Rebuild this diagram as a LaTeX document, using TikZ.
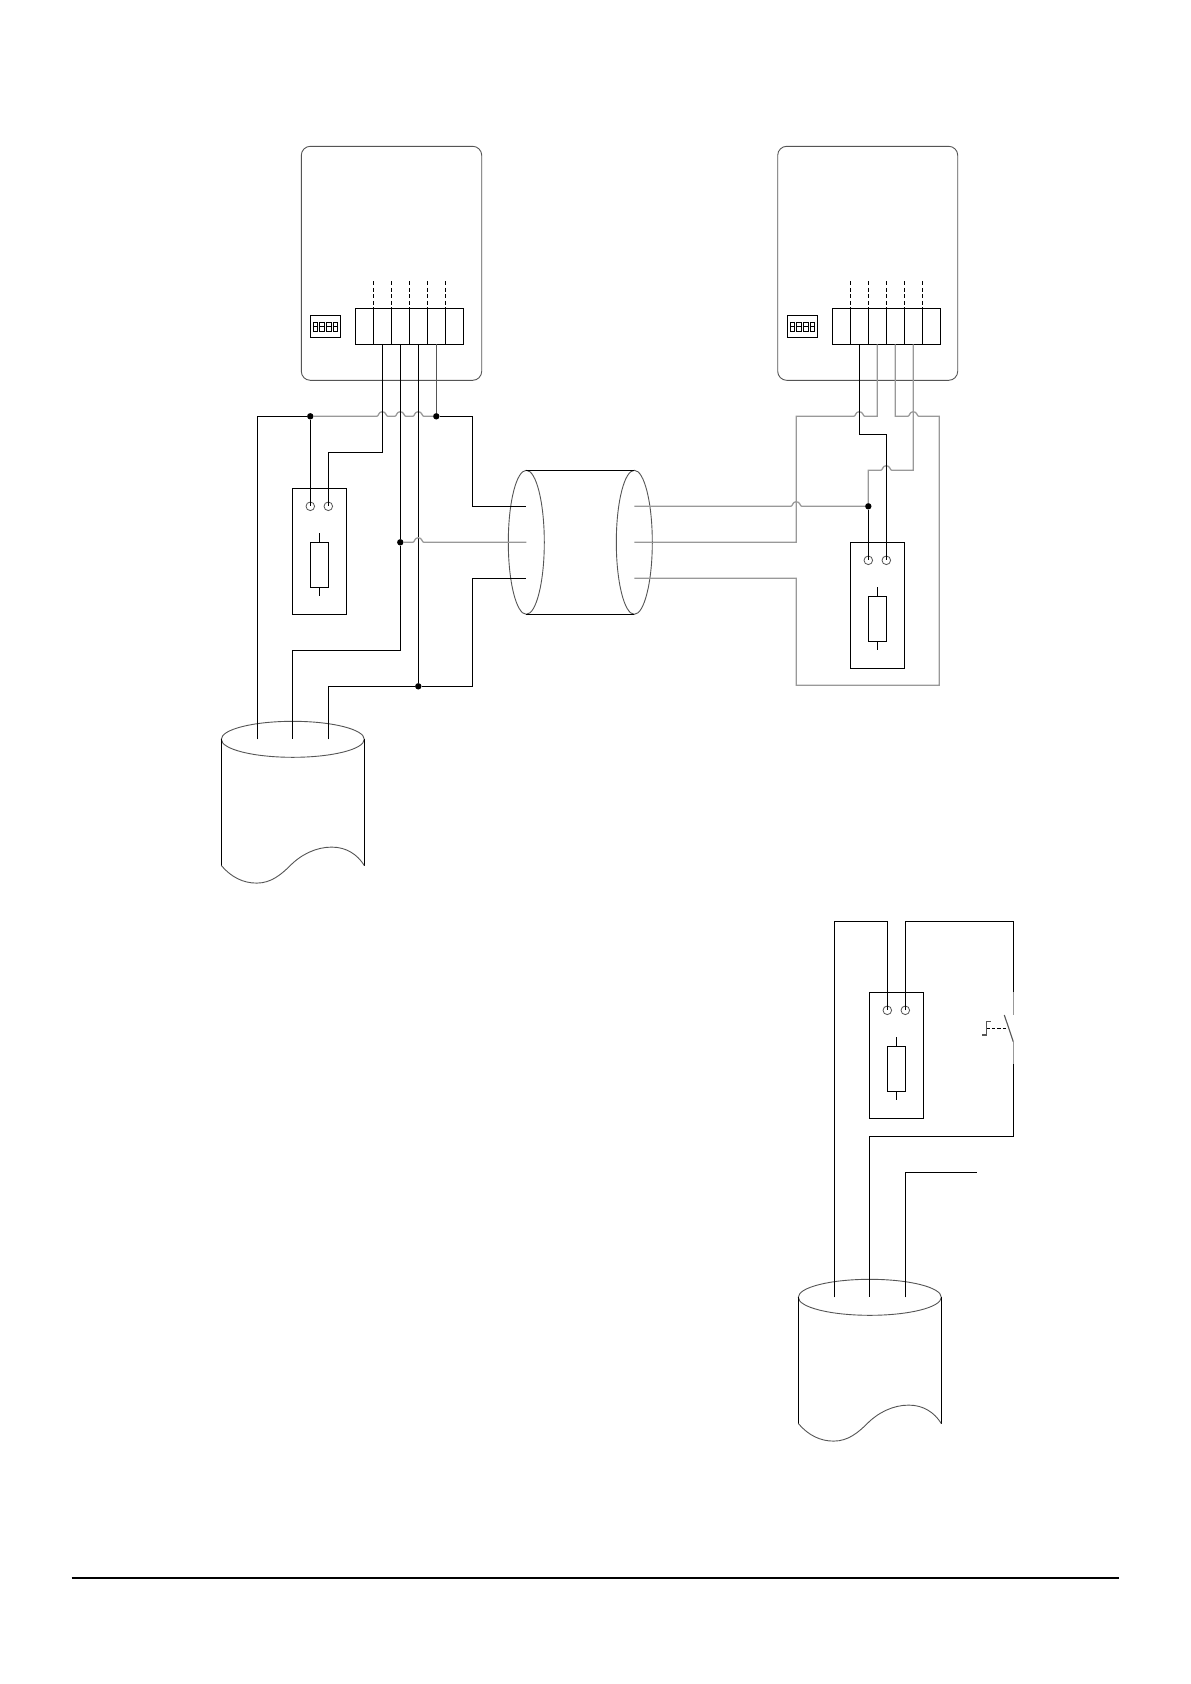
\documentclass[tikz,border=0pt]{standalone}
\definecolor{wiregray}{HTML}{999999}
\definecolor{thinline}{HTML}{555555}
\tikzset{
  wire/.style={draw=black,line width=1.25pt,line join=miter},
  graywire/.style={draw=wiregray,line width=1.25pt,line join=miter},
  midwire/.style={draw=thinline,line width=1.1pt},
  thin outline/.style={draw=thinline,line width=0.9pt},
  plainbox/.style 2 args={draw=black,line width=1.25pt,inner sep=0pt,outer sep=0pt,minimum width=#1 pt,minimum height=#2 pt,fill=none},
  pin/.style={circle,draw=thinline,line width=0.8pt,inner sep=0pt,outer sep=0pt,minimum size=8.6pt},
  joint/.style={circle,fill=black,draw=none,inner sep=0pt,outer sep=0pt,minimum size=6.4pt}
}
% horizontal jump (drawn left to right) over a crossing wire at x=#1, y=#2
\newcommand\hopAt[2]{-- (#1-5.5,#2) .. controls (#1-3.5,#2) and (#1-4,#2-4.6) .. (#1,#2-4.6) .. controls (#1+4,#2-4.6) and (#1+3.5,#2) .. (#1+5.5,#2)}
% controller: rounded case, terminal block, dip switch
\newcommand\controller[4]{%
\begin{scope}[shift={(#2,146.3)}]
  \draw[thin outline,rounded corners=9pt] (#3,0) rectangle (#4,234);
  \node[plainbox={108}{36},anchor=north west] (#1block) at (54,162) {};
  \foreach \i/\dx in {1/18,2/36,3/54,4/72,5/90}{
    \draw[wire] (54+\dx,162) -- (54+\dx,198);
    \draw[wire,dash pattern=on 4pt off 2.5pt] (54+\dx,135) -- (54+\dx,162);
  }
  \node[plainbox={30.4}{22.4},anchor=north west] (#1dip) at (9,169) {};
  \foreach \dx in {12,18.6,25.2,31.8}{
    \draw[draw=black,line width=0.9pt] (\dx,175.7) rectangle (\dx+4.5,185.4);
    \draw[draw=black,line width=0.7pt] (\dx,180.4) -- (\dx+4.5,180.4);
  }
  \coordinate (#1w1) at (81,198);
  \coordinate (#1w2) at (99,198);
  \coordinate (#1w3) at (117,198);
  \coordinate (#1w4) at (135,198);
\end{scope}}
% fuse unit: box, two terminals, resistor
\newcommand\fuseunit[3]{%
\begin{scope}[shift={(#2,#3)}]
  \node[plainbox={54}{126},anchor=north] (#1box) at (0,0) {};
  \node[pin] (#1a) at (-9,18) {};
  \node[pin] (#1b) at (9,18) {};
  \node[plainbox={18}{45},anchor=north] (#1res) at (0,54) {};
  \coordinate (#1s) at (0,45);
  \coordinate (#1e) at (0,107.4);
  \draw[wire] (#1s) -- (#1res.north);
  \draw[wire] (#1res.south) -- (#1e);
\end{scope}}
% drum: open-ended cable end
\newcommand\drum[3]{%
\begin{scope}[shift={(#2,#3)}]
  \draw[thin outline] (71.5,0) ellipse [x radius=71.5,y radius=18];
  \draw[wire] (0,0) -- (0,126.2);
  \draw[wire] (143,0) -- (143,126.2);
  \draw[thin outline] (0,126.2) .. controls (10,138) and (22,143.8) .. (35.4,143.8)
    .. controls (50,143.8) and (60,135) .. (68.7,126.5)
    .. controls (80,115) and (95,107.8) .. (110.4,107.8)
    .. controls (125,107.8) and (136,115) .. (143,126.2);
  \coordinate (#1p1) at (36,0);
  \coordinate (#1p2) at (71,0);
  \coordinate (#1p3) at (107,0);
\end{scope}}
\begin{document}
\begin{tikzpicture}[x=1pt,y=-1pt]
\useasboundingbox (0,0) rectangle (1191,1684);
\fill[white] (0,0) rectangle (1191,1684);

\controller{L}{301.3}{0}{180.4}
\controller{R}{778.3}{-0.6}{179.4}
\fuseunit{fl}{319.3}{488.3}
\fuseunit{fr}{877.3}{542.3}
\fuseunit{fb}{896.3}{992.3}
\drum{dl}{221.3}{739.3}
\drum{db}{798.3}{1297.3}

% shielded cable
\coordinate (cabL) at (526.3,542.3);
\coordinate (cabR) at (634.3,542.3);
\draw[thin outline] (cabL) ellipse [x radius=18,y radius=72];
\draw[thin outline] (cabR) ellipse [x radius=18,y radius=72];
\draw[wire] (526.3,470.3) -- (634.3,470.3);
\draw[wire] (526.3,614.3) -- (634.3,614.3);
\coordinate (cl1) at (526.3,506.3);
\coordinate (cl2) at (526.3,542.3);
\coordinate (cl3) at (526.3,578.3);
\coordinate (cr1) at (634.3,506.3);
\coordinate (cr2) at (634.3,542.3);
\coordinate (cr3) at (634.3,578.3);

% left wiring
\node[joint] (j1) at (310.3,416.3) {};
\node[joint] (j2) at (436.3,416.3) {};
\node[joint] (j3) at (400.3,542.3) {};
\node[joint] (j4) at (418.3,686.3) {};
\draw[wire] (dlp1) -- (dlp1 |- j1) -- (j1);
\draw[wire] (j1) -- (fla.center);
\draw[graywire] (j1) \hopAt{382.3}{416.3} \hopAt{400.3}{416.3} \hopAt{418.3}{416.3} -- (j2);
\draw[midwire] (Lw4) -- (j2);
\draw[wire] (j2) -| (472.3,506.3) -- (cl1);
\draw[wire] (Lw1) |- (328.3,452.3) -- (flb.center);
\draw[wire] (Lw2) -- (j3);
\draw[wire] (j3) |- (292.3,650.3) -- (dlp2);
\draw[wire] (Lw3) -- (j4);
\draw[wire] (dlp3) |- (j4);
\draw[wire] (j4) -| (472.3,578.3) -- (cl3);
\draw[graywire] (j3) \hopAt{418.3}{542.3} -- (cl2);

% right wiring
\node[joint] (j5) at (868.3,506.3) {};
\draw[graywire] (cr1) \hopAt{796.3}{506.3} -- (j5);
\draw[graywire] (cr2) -| (796.3,416.3) \hopAt{859.3}{416.3} -| (Rw2);
\draw[graywire] (Rw3) |- (907.8,416.3) \hopAt{913.3}{416.3} -| (939.3,685.3) -- (796.3,685.3) |- (cr3);
\draw[graywire] (j5) |- (880.8,470.3) \hopAt{886.3}{470.3} -| (Rw4);
\draw[wire] (j5) -- (fra.center);
\draw[wire] (Rw1) |- (886.3,434.3) -- (frb.center);

% bottom right wiring
\coordinate (swTop) at (1013.3,992.3);
\coordinate (swA) at (1013.3,1015);
\coordinate (swPivot) at (1004.3,1015);
\coordinate (swB) at (1013.3,1041.7);
\coordinate (swBot) at (1013.3,1064);
\coordinate (swDashL) at (986.3,1028.3);
\coordinate (swDashR) at (1007.3,1028.3);
\coordinate (freeEnd) at (977.3,1172.3);
\draw[wire] (dbp1) |- (887.3,921.3) -- (fba.center);
\draw[wire] (fbb.center) |- (1013.3,921.3) -- (swTop);
\draw[graywire] (swTop) -- (swA);
\draw[midwire] (swPivot) -- (swB);
\draw[graywire] (swB) -- (swBot);
\draw[wire] (swBot) |- (869.3,1136.3) -- (dbp2);
\draw[wire] (dbp3) |- (freeEnd);
\draw[draw=black,line width=1.1pt,dash pattern=on 3.5pt off 2pt] (swDashL) -- (swDashR);
\draw[midwire] (982,1035) -- (986.3,1035) -- (986.3,1021.7) -- (990.7,1021.7);

% footer rule
\coordinate (ruleL) at (71.5,1578);
\coordinate (ruleR) at (1118.5,1578);
\draw[draw=black,line width=1.3pt] (ruleL) -- (ruleR);
\end{tikzpicture}
\end{document}
